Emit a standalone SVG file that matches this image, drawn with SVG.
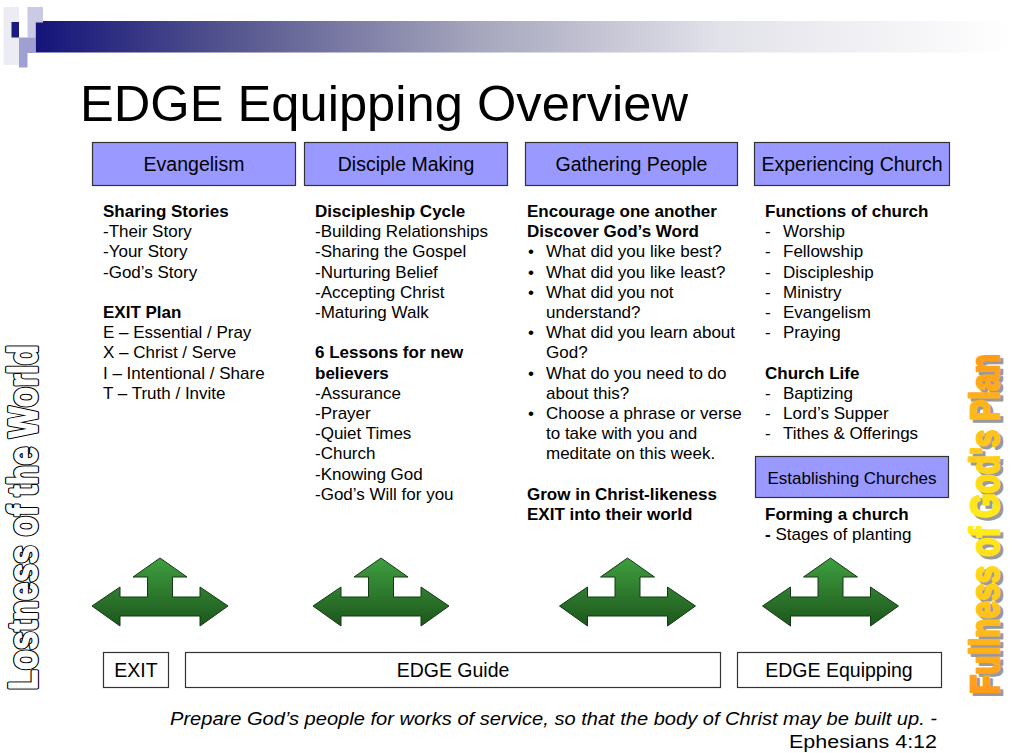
<svg xmlns="http://www.w3.org/2000/svg" width="1012" height="753" viewBox="0 0 1012 753">
<defs>
<style>
text{font-family:"Liberation Sans",Arial,sans-serif;fill:#000}
.b{font-size:17px}
.bb{font-size:17px;font-weight:bold}
.hd{font-size:19.5px;text-anchor:middle}
.hbox{fill:#9999ff;stroke:#333;stroke-width:1.2}
.wbox{fill:#fff;stroke:#333;stroke-width:1.2}
.q{font-size:18px;font-style:italic}
.vt{font-size:40px;font-weight:bold}
</style>
<linearGradient id="barg" x1="0" y1="0" x2="1" y2="0">
<stop offset="0" stop-color="#14147a"/>
<stop offset="0.2" stop-color="#55558f"/>
<stop offset="0.45" stop-color="#a5a5bd"/>
<stop offset="0.7" stop-color="#e2e2ea"/>
<stop offset="1" stop-color="#ffffff"/>
</linearGradient>
<linearGradient id="greeng" x1="0" y1="0" x2="0" y2="1">
<stop offset="0" stop-color="#3f9f3f"/>
<stop offset="1" stop-color="#1c561c"/>
</linearGradient>
<linearGradient id="orag" x1="0" y1="0" x2="1" y2="0">
<stop offset="0" stop-color="#ff9a1a"/>
<stop offset="0.5" stop-color="#ffef1a"/>
<stop offset="1" stop-color="#ff9a1a"/>
</linearGradient>
<polygon id="arr" points="0,0 27,19 12.5,19 12.5,39 40,39 40,29 68,48 40,68 40,58 -40,58 -40,68 -68,48 -40,29 -40,39 -12.5,39 -12.5,19 -27,19" fill="url(#greeng)" stroke="#143814" stroke-width="1"/>
</defs>
<rect width="1012" height="753" fill="#fff"/>

<g id="banner">
<rect x="35.5" y="21" width="976.5" height="31.5" fill="url(#barg)"/>
<rect x="3.5" y="7" width="15.5" height="58" fill="#ececf5"/>
<rect x="27.5" y="7" width="15.5" height="15.5" fill="#cacae6"/>
<rect x="11.5" y="22" width="7.5" height="15.5" fill="#1a1a80"/>
<rect x="27.5" y="22" width="8" height="15.5" fill="#cacae6"/>
<rect x="19" y="37.5" width="16.5" height="15.5" fill="#9f9fd2"/>
<rect x="19" y="52.5" width="8.5" height="15" fill="#9f9fd2"/>
</g>

<text id="title" x="80" y="121" style="font-size:50px" textLength="608" lengthAdjust="spacingAndGlyphs">EDGE Equipping Overview</text>

<g id="evangelism">
<rect class="hbox" x="92.5" y="142.5" width="203" height="43"/>
<text class="hd" x="194" y="170.5">Evangelism</text>
</g>
<g id="disciple-making">
<rect class="hbox" x="304.5" y="142.5" width="203" height="43"/>
<text class="hd" x="406" y="170.5">Disciple Making</text>
</g>
<g id="gathering-people">
<rect class="hbox" x="525.5" y="142.5" width="212" height="43"/>
<text class="hd" x="631.5" y="170.5">Gathering People</text>
</g>
<g id="experiencing-church">
<rect class="hbox" x="754.5" y="142.5" width="195" height="43"/>
<text class="hd" x="852" y="170.5">Experiencing Church</text>
</g>

<g id="col-evangelism">
<text class="bb" x="103" y="217">Sharing Stories</text>
<text class="b" x="103" y="237.2">-Their Story</text>
<text class="b" x="103" y="257.4">-Your Story</text>
<text class="b" x="103" y="277.6">-God’s Story</text>
<text class="bb" x="103" y="318">EXIT Plan</text>
<text class="b" x="103" y="338.2">E – Essential / Pray</text>
<text class="b" x="103" y="358.4">X – Christ / Serve</text>
<text class="b" x="103" y="378.6">I – Intentional / Share</text>
<text class="b" x="103" y="398.8">T – Truth / Invite</text>
</g>

<g id="col-disciple">
<text class="bb" x="315" y="217">Discipleship Cycle</text>
<text class="b" x="315" y="237.2">-Building Relationships</text>
<text class="b" x="315" y="257.4">-Sharing the Gospel</text>
<text class="b" x="315" y="277.6">-Nurturing Belief</text>
<text class="b" x="315" y="297.8">-Accepting Christ</text>
<text class="b" x="315" y="318">-Maturing Walk</text>
<text class="bb" x="315" y="358.4">6 Lessons for new</text>
<text class="bb" x="315" y="378.6">believers</text>
<text class="b" x="315" y="398.8">-Assurance</text>
<text class="b" x="315" y="419">-Prayer</text>
<text class="b" x="315" y="439.2">-Quiet Times</text>
<text class="b" x="315" y="459.4">-Church</text>
<text class="b" x="315" y="479.6">-Knowing God</text>
<text class="b" x="315" y="499.8">-God’s Will for you</text>
</g>

<g id="col-gathering">
<text class="bb" x="527" y="217">Encourage one another</text>
<text class="bb" x="527" y="237.2">Discover God’s Word</text>
<text class="b" x="528" y="257.4">•</text><text class="b" x="546" y="257.4">What did you like best?</text>
<text class="b" x="528" y="277.6">•</text><text class="b" x="546" y="277.6">What did you like least?</text>
<text class="b" x="528" y="297.8">•</text><text class="b" x="546" y="297.8">What did you not</text>
<text class="b" x="546" y="318">understand?</text>
<text class="b" x="528" y="338.2">•</text><text class="b" x="546" y="338.2">What did you learn about</text>
<text class="b" x="546" y="358.4">God?</text>
<text class="b" x="528" y="378.6">•</text><text class="b" x="546" y="378.6">What do you need to do</text>
<text class="b" x="546" y="398.8">about this?</text>
<text class="b" x="528" y="419">•</text><text class="b" x="546" y="419">Choose a phrase or verse</text>
<text class="b" x="546" y="439.2">to take with you and</text>
<text class="b" x="546" y="459.4">meditate on this week.</text>
<text class="bb" x="527" y="499.8">Grow in Christ-likeness</text>
<text class="bb" x="527" y="520">EXIT into their world</text>
</g>

<g id="col-church">
<text class="bb" x="765" y="217">Functions of church</text>
<text class="b" x="765" y="237.2">-</text><text class="b" x="783" y="237.2">Worship</text>
<text class="b" x="765" y="257.4">-</text><text class="b" x="783" y="257.4">Fellowship</text>
<text class="b" x="765" y="277.6">-</text><text class="b" x="783" y="277.6">Discipleship</text>
<text class="b" x="765" y="297.8">-</text><text class="b" x="783" y="297.8">Ministry</text>
<text class="b" x="765" y="318">-</text><text class="b" x="783" y="318">Evangelism</text>
<text class="b" x="765" y="338.2">-</text><text class="b" x="783" y="338.2">Praying</text>
<text class="bb" x="765" y="378.6">Church Life</text>
<text class="b" x="765" y="398.8">-</text><text class="b" x="783" y="398.8">Baptizing</text>
<text class="b" x="765" y="419">-</text><text class="b" x="783" y="419">Lord’s Supper</text>
<text class="b" x="765" y="439.2">-</text><text class="b" x="783" y="439.2">Tithes &amp; Offerings</text>
</g>

<g id="establishing-churches">
<rect class="hbox" x="755.5" y="456.5" width="193" height="41"/>
<text class="b" x="852" y="484" text-anchor="middle">Establishing Churches</text>
</g>
<g id="col-establishing">
<text class="bb" x="765" y="520">Forming a church</text>
<text class="b" x="765" y="540"><tspan font-weight="bold">-</tspan> Stages of planting</text>
</g>

<g id="connectors">
<use href="#arr" x="160" y="558"/>
<use href="#arr" x="381" y="558"/>
<use href="#arr" x="627.5" y="558"/>
<use href="#arr" x="830.5" y="558"/>
</g>

<g id="exit">
<rect class="wbox" x="103.5" y="652.5" width="65" height="35"/>
<text class="hd" x="136" y="677">EXIT</text>
</g>
<g id="edge-guide">
<rect class="wbox" x="185.5" y="652.5" width="535" height="35"/>
<text class="hd" x="453" y="677">EDGE Guide</text>
</g>
<g id="edge-equipping">
<rect class="wbox" x="737.5" y="652.5" width="204" height="35"/>
<text class="hd" x="839" y="677">EDGE Equipping</text>
</g>

<text class="q" x="170" y="725" textLength="767" lengthAdjust="spacingAndGlyphs">Prepare God’s people for works of service, so that the body of Christ may be built up. -</text>
<text x="937" y="748" text-anchor="end" style="font-size:18px" textLength="148" lengthAdjust="spacingAndGlyphs">Ephesians 4:12</text>

<g id="lostness">
<text class="vt" transform="translate(37,690) rotate(-90)" x="0" y="0" style="fill:#000;stroke:#000;stroke-width:4;stroke-linejoin:round" textLength="345" lengthAdjust="spacingAndGlyphs">Lostness of the World</text>
<text class="vt" transform="translate(37,690) rotate(-90)" x="0" y="0" style="fill:#fff;stroke:#fff;stroke-width:1.6;stroke-linejoin:round" textLength="345" lengthAdjust="spacingAndGlyphs">Lostness of the World</text>
</g>

<g id="fullness">
<text class="vt" transform="translate(1002,697) rotate(-90)" x="0" y="0" style="fill:#9a9a9a;stroke:#9a9a9a;stroke-width:2.5;stroke-linejoin:round" textLength="340" lengthAdjust="spacingAndGlyphs">Fullness of God's Plan</text>
<text class="vt" transform="translate(999,694) rotate(-90)" x="0" y="0" style="fill:url(#orag);stroke:url(#orag);stroke-width:2.5;stroke-linejoin:round" textLength="340" lengthAdjust="spacingAndGlyphs">Fullness of God's Plan</text>
</g>
</svg>
